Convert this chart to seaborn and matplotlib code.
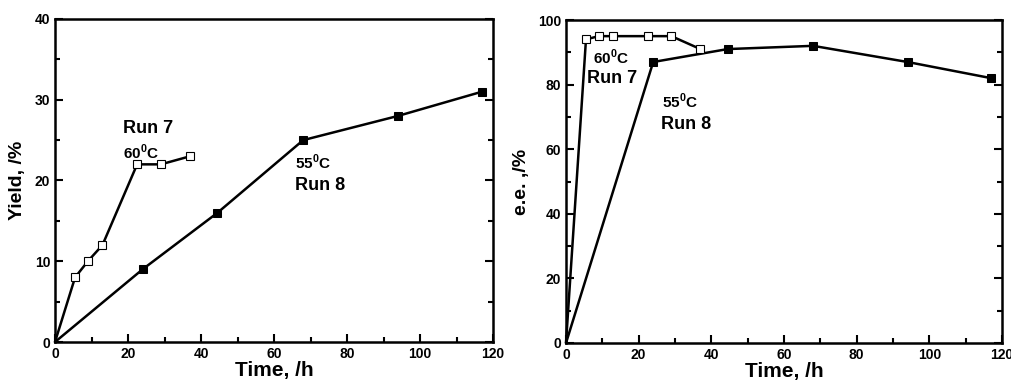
import numpy as np
import pandas as pd
import matplotlib
matplotlib.use("Agg")
import matplotlib.pyplot as plt
import seaborn as sns
from matplotlib.ticker import MultipleLocator

# Data
run7_time = [0, 5.5, 9, 13, 22.5, 29, 37]
run7_yield = [0, 8, 10, 12, 22, 22, 23]
run7_ee = [0, 94, 95, 95, 95, 95, 91]

run8_time = [0, 24, 44.5, 68, 94, 117]
run8_yield = [0, 9, 16, 25, 28, 31]
run8_ee = [0, 87, 91, 92, 87, 82]

sns.set_style("ticks")
plt.rcParams['font.family'] = ['Liberation Sans', 'DejaVu Sans']
plt.rcParams['font.weight'] = 'bold'
plt.rcParams['mathtext.fontset'] = 'custom'
plt.rcParams['mathtext.rm'] = 'Liberation Sans:bold'
plt.rcParams['mathtext.bf'] = 'Liberation Sans:bold'
for k in ['text.color', 'axes.labelcolor', 'xtick.color', 'ytick.color', 'axes.edgecolor']:
    plt.rcParams[k] = 'black'

fig = plt.figure(figsize=(10.11, 3.85), dpi=100)
ax1 = fig.add_axes([55 / 1011, 43 / 385, 438 / 1011, 323 / 385])
ax2 = fig.add_axes([566 / 1011, 42 / 385, 436 / 1011, 323 / 385])

df7 = pd.DataFrame({"time": run7_time, "yield": run7_yield, "ee": run7_ee})
df8 = pd.DataFrame({"time": run8_time, "yield": run8_yield, "ee": run8_ee})


def draw(ax, col):
    # the origin point has no marker in the original
    sns.lineplot(data=df8, x="time", y=col, ax=ax, color="black", lw=1.8,
                 marker="s", markersize=6, markerfacecolor="black",
                 markeredgecolor="black", markevery=slice(1, None),
                 estimator=None, sort=False)
    sns.lineplot(data=df7, x="time", y=col, ax=ax, color="black", lw=1.8,
                 marker="s", markersize=6, markerfacecolor="white",
                 markeredgecolor="black", markeredgewidth=0.8,
                 markevery=slice(1, None), estimator=None, sort=False)
    ax.set_xlim(0, 120)
    ax.xaxis.set_major_locator(MultipleLocator(20))
    ax.xaxis.set_minor_locator(MultipleLocator(10))
    ax.tick_params(which="both", direction="in", right=True, top=False,
                   labelsize=10, width=1.5)
    ax.tick_params(which="major", length=6)
    ax.tick_params(which="minor", length=3.5)
    for s in ax.spines.values():
        s.set_linewidth(1.8)
    for lab in ax.get_xticklabels() + ax.get_yticklabels():
        lab.set_fontweight("bold")
    ax.set_xlabel("Time, /h", fontsize=15, fontweight="bold", labelpad=0)


draw(ax1, "yield")
ax1.set_ylim(0, 40)
ax1.yaxis.set_major_locator(MultipleLocator(10))
ax1.yaxis.set_minor_locator(MultipleLocator(5))
ax1.set_ylabel("Yield, /%", fontsize=14, fontweight="bold", labelpad=6)
ax1.text(25.4, 26.4, "Run 7", ha="center", va="center", fontsize=13, fontweight="bold")
ax1.text(23.7, 23.5, r"60$^{0}$C", ha="center", va="center", fontsize=11, fontweight="bold")
ax1.text(70.7, 22.2, r"55$^{0}$C", ha="center", va="center", fontsize=11, fontweight="bold")
ax1.text(72.6, 19.4, "Run 8", ha="center", va="center", fontsize=13, fontweight="bold")

draw(ax2, "ee")
ax2.set_ylim(0, 100)
ax2.yaxis.set_major_locator(MultipleLocator(20))
ax2.yaxis.set_minor_locator(MultipleLocator(10))
ax2.set_ylabel("e.e. ,/%", fontsize=14, fontweight="bold", labelpad=6)
ax2.text(12.5, 88.5, r"60$^{0}$C", ha="center", va="center", fontsize=11, fontweight="bold")
ax2.text(12.7, 82.0, "Run 7", ha="center", va="center", fontsize=13, fontweight="bold")
ax2.text(31.4, 74.7, r"55$^{0}$C", ha="center", va="center", fontsize=11, fontweight="bold")
ax2.text(33.0, 67.8, "Run 8", ha="center", va="center", fontsize=13, fontweight="bold")

for ax in (ax1, ax2):
    for line in ax.lines:
        line.set_clip_on(False)

fig.savefig("out.png", dpi=100)
